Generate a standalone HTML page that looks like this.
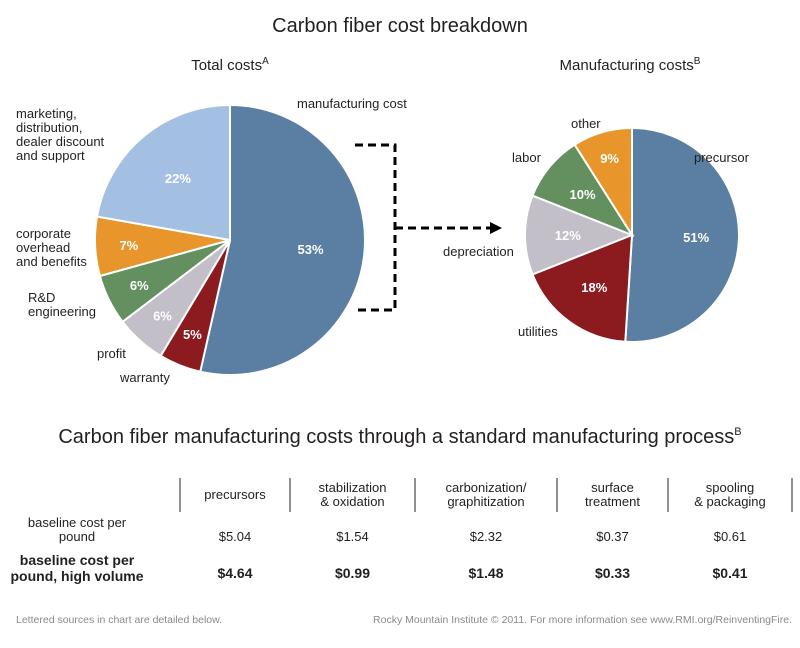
<!DOCTYPE html>
<html><head><meta charset="utf-8"><style>
body{margin:0;background:#fff;}
svg text{font-family:"Liberation Sans",sans-serif;fill:#231f20;}
</style></head><body>
<svg width="800" height="643" viewBox="0 0 800 643">
<text x="400" y="32" font-size="20" text-anchor="middle">Carbon fiber cost breakdown</text>
<text x="230" y="70" font-size="15" text-anchor="middle">Total costs<tspan font-size="10" dy="-6">A</tspan></text>
<text x="630" y="70" font-size="15" text-anchor="middle">Manufacturing costs<tspan font-size="10" dy="-6">B</tspan></text>
<g id="pie1"></g>
<g id="pie2"></g>
<g fill="none" stroke="#000" stroke-width="3" stroke-dasharray="8,5">
<polyline points="355,145 395,145 395,310 355,310"/>
<line x1="395" y1="228" x2="492" y2="228"/>
</g>
<polygon points="490,222 502,228 490,234" fill="#000"/>
<g font-size="13">
<text x="297" y="108">manufacturing cost</text>
<text x="16" y="118">marketing,</text><text x="16" y="132">distribution,</text><text x="16" y="146">dealer discount</text><text x="16" y="160">and support</text>
<text x="16" y="238">corporate</text><text x="16" y="252">overhead</text><text x="16" y="266">and benefits</text>
<text x="28" y="302">R&amp;D</text><text x="28" y="316">engineering</text>
<text x="97" y="358">profit</text>
<text x="120" y="382">warranty</text>
<text x="571" y="128">other</text>
<text x="512" y="162">labor</text>
<text x="694" y="162">precursor</text>
<text x="443" y="256">depreciation</text>
<text x="518" y="336">utilities</text>
</g>
<text x="400" y="443" font-size="20" text-anchor="middle">Carbon fiber manufacturing costs through a standard manufacturing process<tspan font-size="11" dy="-8">B</tspan></text>
<g id="table"></g>
<text x="16" y="623" font-size="10.5" fill="#888" style="fill:#8a8a8a">Lettered sources in chart are detailed below.</text>
<text x="792" y="623" font-size="10.5" text-anchor="end" style="fill:#8a8a8a">Rocky Mountain Institute © 2011. For more information see www.RMI.org/ReinventingFire.</text>
</svg>
<script>
const NS="http://www.w3.org/2000/svg";
const totalCats=["manufacturing cost","warranty","profit","R&D engineering","corporate overhead","marketing"];
const totalVals=[53,5,6,6,7,22];
const totalColors=["#5b7fa2","#8b1b1f","#c3bfc8","#64905f","#e8952b","#a3bfe2"];
const mfgCats=["precursor","utilities","depreciation","labor","other"];
const mfgVals=[51,18,12,10,9];
const mfgColors=["#5b7fa2","#8b1b1f","#c3bfc8","#64905f","#e8952b"];
function el(t,a,p){const e=document.createElementNS(NS,t);for(const k in a)e.setAttribute(k,a[k]);p.appendChild(e);return e;}
function pie(g,cats,vals,cols,cx,cy,r,lr){
  const tot=vals.reduce((a,b)=>a+b,0);let a0=0;
  vals.forEach((v,i)=>{
    const a1=a0+v/tot*2*Math.PI;
    const p=(a)=>[cx+r*Math.sin(a),cy-r*Math.cos(a)];
    const [x0,y0]=p(a0),[x1,y1]=p(a1);
    const path=el('path',{d:`M${cx},${cy}L${x0},${y0}A${r},${r} 0 ${a1-a0>Math.PI?1:0} 1 ${x1},${y1}Z`,fill:cols[i],stroke:'#fff','stroke-width':2},g);
    
    
    const am=(a0+a1)/2, rr=r*(v<10?lr+0.15:lr);
    const t=el('text',{x:cx+rr*Math.sin(am),y:cy-rr*Math.cos(am)+5,'text-anchor':'middle','font-size':13,'font-weight':'bold',style:'fill:#fff'},g);
    t.textContent=v+'%';
    
    
    a0=a1;
  });
}
pie(document.getElementById('pie1'),totalCats,totalVals,totalColors,230,240,135,0.6);
pie(document.getElementById('pie2'),mfgCats,mfgVals,mfgColors,632,235,107,0.6);

const steps=[["precursors"],["stabilization","& oxidation"],["carbonization/","graphitization"],["surface","treatment"],["spooling","& packaging"]];
const baseline=["$5.04","$1.54","$2.32","$0.37","$0.61"];
const highVol=["$4.64","$0.99","$1.48","$0.33","$0.41"];
const tg=document.getElementById('table');
const lines=[180,290,415,557,668,792];
lines.forEach(x=>{const l=el('line',{x1:x,y1:478,x2:x,y2:512,stroke:'#231f20','stroke-width':1},tg);

});
steps.forEach((s,i)=>{
  const cx=(lines[i]+lines[i+1])/2;
  s.forEach((ln,j)=>{const t=el('text',{x:cx,y:(s.length==1?499:492)+j*14,'text-anchor':'middle','font-size':13},tg);t.textContent=ln;
  
  });
  const b=el('text',{x:cx,y:541,'text-anchor':'middle','font-size':13},tg);b.textContent=baseline[i];
  
  
  const h=el('text',{x:cx,y:578,'text-anchor':'middle','font-size':14,'font-weight':'bold'},tg);h.textContent=highVol[i];
  
  
});
[["baseline cost per",527,13,"normal"],["pound",541,13,"normal"],["baseline cost per",565,14,"bold"],["pound, high volume",581,14,"bold"]].forEach(r=>{
  const t=el('text',{x:77,y:r[1],'text-anchor':'middle','font-size':r[2],'font-weight':r[3]},tg);t.textContent=r[0];
  
  
});
</script>
</body></html>
